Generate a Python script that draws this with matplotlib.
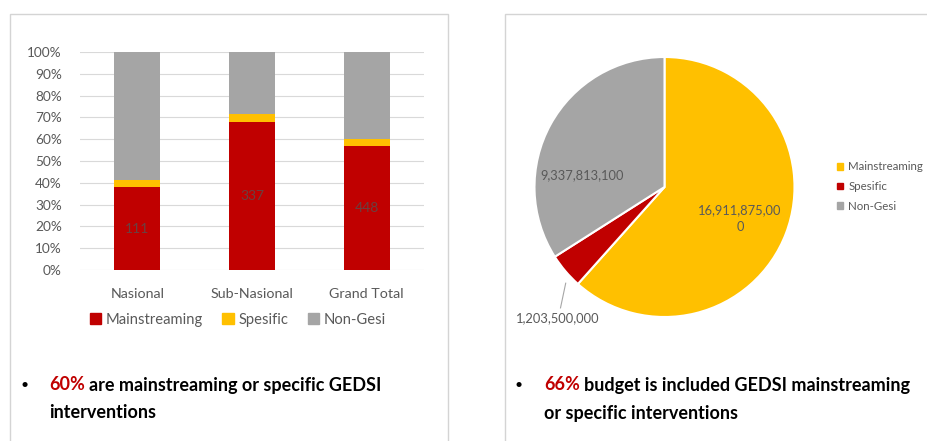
import matplotlib.pyplot as plt
from matplotlib.patches import Rectangle, Patch
from matplotlib.lines import Line2D
import numpy as np

# data
categories = ["Nasional", "Sub-Nasional", "Grand Total"]
mainstreaming = [0.38, 0.68, 0.57]
spesific = [0.035, 0.035, 0.03]
non_gesi = [0.585, 0.285, 0.40]
bar_labels = ["111", "337", "448"]

pie_names = ["Mainstreaming", "Spesific", "Non-Gesi"]
pie_values = [16911875000, 1203500000, 9337813100]
pie_texts = ["16,911,875,00\n0", "1,203,500,000", "9,337,813,100"]

RED, YEL, GRY = "#c00000", "#ffc000", "#a5a5a5"
TXT = "#595959"
W, H = 928, 441

plt.rcParams['font.family'] = ['Lato', 'DejaVu Sans']

fig = plt.figure(figsize=(W / 100, H / 100), dpi=100)
fig.patch.set_facecolor("white")


def px(x, y, w, h):
    # pixel box (top-left origin) -> figure fraction
    return [x / W, 1 - (y + h) / H, w / W, h / H]


# cards
for (cx, cy, cw, ch) in [(10, 14, 438, 440), (505, 14, 440, 440)]:
    r = Rectangle((cx / W, 1 - (cy + ch) / H), cw / W, ch / H, transform=fig.transFigure,
                  facecolor="white", edgecolor="#d4d4d4", lw=1.0, zorder=0)
    fig.add_artist(r)

# ---- stacked bar chart
ax = fig.add_axes(px(80, 52, 344, 218))
x = np.arange(len(categories))
ax.bar(x, mainstreaming, 0.4, color=RED, zorder=3)
ax.bar(x, spesific, 0.4, bottom=mainstreaming, color=YEL, zorder=3)
bot = np.array(mainstreaming) + np.array(spesific)
ax.bar(x, non_gesi, 0.4, bottom=bot, color=GRY, zorder=3)
for i, lab in enumerate(bar_labels):
    ax.text(x[i], mainstreaming[i] / 2, lab, ha="center", va="center",
            color="#6a4040", fontsize=10, zorder=4)
ax.set_xlim(-0.5, 2.5)
ax.set_ylim(0, 1)
ax.set_yticks(np.arange(0, 1.01, 0.1))
ax.set_yticklabels([f"{int(round(v * 100))}%" for v in np.arange(0, 1.01, 0.1)])
ax.set_xticks(x)
ax.set_xticklabels(categories)
ax.tick_params(length=0, labelsize=9.8, colors=TXT)
ax.tick_params(axis="x", labelsize=10.3)
ax.tick_params(axis="y", pad=13)
ax.tick_params(axis="x", pad=13)
ax.grid(axis="y", color="#d9d9d9", lw=0.8, zorder=0)
for s in ax.spines.values():
    s.set_visible(False)
handles = [Patch(color=c) for c in (RED, YEL, GRY)]
fig.legend(handles, ["Mainstreaming", "Spesific", "Non-Gesi"], ncol=3,
           loc="center", bbox_to_anchor=(238 / W, 1 - 320 / H), frameon=False,
           fontsize=10.6, labelcolor=TXT, handlelength=0.75, handleheight=0.75,
           handletextpad=0.35, columnspacing=1.3)

# ---- pie chart
pa = fig.add_axes(px(534, 57, 261, 260))
pa.pie(pie_values, colors=[YEL, RED, GRY], startangle=90,
       counterclock=False, wedgeprops=dict(edgecolor="white", lw=1.5))
pa.set_xlim(-1, 1)
pa.set_ylim(-1, 1)
pa.text(0.58, -0.24, pie_texts[0], ha="center", va="center", color=TXT,
        fontsize=9.3, linespacing=1.5)
pa.text(-0.63, 0.09, pie_texts[2], ha="center", va="center", color=TXT, fontsize=9.3)
pa.text(-0.82, -1.01, pie_texts[1], ha="center", va="center", color=TXT,
        fontsize=9.3, clip_on=False)
pa.add_line(Line2D([-0.76, -0.80], [-0.74, -0.93], color="#a6a6a6", lw=0.8,
                   clip_on=False))
fig.legend([Patch(color=c) for c in (YEL, RED, GRY)], pie_names,
           loc="upper left", bbox_to_anchor=(827 / W, 1 - 151 / H), frameon=False,
           fontsize=8.3, labelcolor=TXT, handlelength=0.5, handleheight=0.5,
           handletextpad=0.45, labelspacing=0.75)

# ---- bullet text
fig.canvas.draw()
rend = fig.canvas.get_renderer()


def bullet(xb, xt, y, hl, rest, line2):
    fig.text(xb / W, 1 - y / H, "•", fontsize=10, ha="left", va="center", color="black")
    t = fig.text(xt / W, 1 - y / H, hl, fontsize=13, fontweight="bold", color=RED,
                 ha="left", va="center")
    bb = t.get_window_extent(rend)
    fig.text(bb.x1 / W + 4 / W, 1 - y / H, rest, fontsize=13, fontweight="bold",
             color="black", ha="left", va="center")
    fig.text(xt / W, 1 - (y + 28) / H, line2, fontsize=13, fontweight="bold",
             color="black", ha="left", va="center")


bullet(20, 49, 385, "60%", "are mainstreaming or specific GEDSI", "interventions")
bullet(515, 544, 385, "66%", "budget is included GEDSI mainstreaming",
       "or specific interventions")

fig.savefig("out.png", dpi=100)
